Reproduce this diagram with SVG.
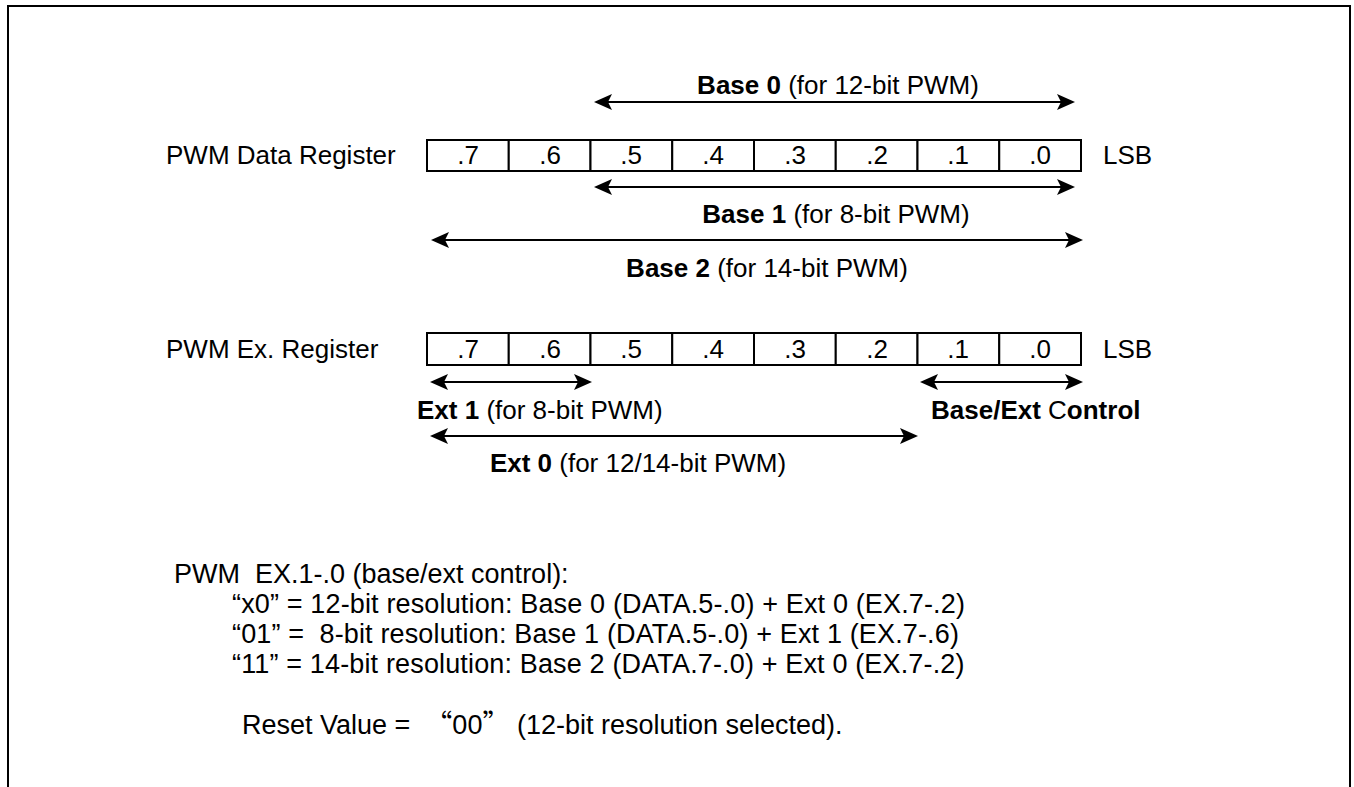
<svg xmlns="http://www.w3.org/2000/svg" width="1354" height="787" viewBox="0 0 1354 787">
<style>
text{font-family:"Liberation Sans",Arial,sans-serif;font-size:26px;fill:#000;white-space:pre}
.b{font-weight:bold}
.c{text-anchor:middle}
.n{font-size:27px}
.s{letter-spacing:0.15px}
.q{font-family:"Noto Sans CJK SC","Liberation Sans",sans-serif}
.cell{fill:#fff;stroke:#000;stroke-width:2}
.arr{stroke:#000;stroke-width:2;fill:none;marker-start:url(#ah);marker-end:url(#ah)}
</style>
<defs>
<marker id="ah" viewBox="0 0 18 16" refX="8" refY="8" markerWidth="18" markerHeight="16" markerUnits="userSpaceOnUse" orient="auto-start-reverse">
<path d="M0,0 L18,8 L0,16 L4,8 Z" fill="#000"/>
</marker>
</defs>
<rect width="1354" height="787" fill="#fff"/>
<path d="M8,800 L8,6 L1350,6 L1350,800" fill="none" stroke="#000" stroke-width="2"/>

<g id="data-register">
<text x="166" y="164">PWM Data Register</text>
<rect class="cell" x="427" y="140" width="81.75" height="31"/>
<rect class="cell" x="508.75" y="140" width="81.75" height="31"/>
<rect class="cell" x="590.5" y="140" width="81.75" height="31"/>
<rect class="cell" x="672.25" y="140" width="81.75" height="31"/>
<rect class="cell" x="754" y="140" width="81.75" height="31"/>
<rect class="cell" x="835.75" y="140" width="81.75" height="31"/>
<rect class="cell" x="917.5" y="140" width="81.75" height="31"/>
<rect class="cell" x="999.25" y="140" width="81.75" height="31"/>
<text class="c" x="468" y="164">.7</text>
<text class="c" x="550" y="164">.6</text>
<text class="c" x="631" y="164">.5</text>
<text class="c" x="713" y="164">.4</text>
<text class="c" x="795" y="164">.3</text>
<text class="c" x="877" y="164">.2</text>
<text class="c" x="958" y="164">.1</text>
<text class="c" x="1040" y="164">.0</text>
<text x="1103" y="164">LSB</text>
</g>

<g id="ex-register">
<text x="166" y="358">PWM Ex. Register</text>
<rect class="cell" x="427" y="333" width="81.75" height="32"/>
<rect class="cell" x="508.75" y="333" width="81.75" height="32"/>
<rect class="cell" x="590.5" y="333" width="81.75" height="32"/>
<rect class="cell" x="672.25" y="333" width="81.75" height="32"/>
<rect class="cell" x="754" y="333" width="81.75" height="32"/>
<rect class="cell" x="835.75" y="333" width="81.75" height="32"/>
<rect class="cell" x="917.5" y="333" width="81.75" height="32"/>
<rect class="cell" x="999.25" y="333" width="81.75" height="32"/>
<text class="c" x="468" y="358">.7</text>
<text class="c" x="550" y="358">.6</text>
<text class="c" x="631" y="358">.5</text>
<text class="c" x="713" y="358">.4</text>
<text class="c" x="795" y="358">.3</text>
<text class="c" x="877" y="358">.2</text>
<text class="c" x="958" y="358">.1</text>
<text class="c" x="1040" y="358">.0</text>
<text x="1103" y="358">LSB</text>
</g>

<g id="connectors">
<line class="arr" x1="604" y1="102" x2="1065" y2="102"/>
<line class="arr" x1="604" y1="187" x2="1065" y2="187"/>
<line class="arr" x1="441" y1="240" x2="1073" y2="240"/>
<line class="arr" x1="440" y1="382" x2="582" y2="382"/>
<line class="arr" x1="930" y1="382" x2="1073" y2="382"/>
<line class="arr" x1="440" y1="436" x2="908" y2="436"/>
</g>

<g id="labels">
<text class="c" x="838" y="94"><tspan class="b">Base 0</tspan> (for 12-bit PWM)</text>
<text class="c" x="836" y="223"><tspan class="b">Base 1</tspan> (for 8-bit PWM)</text>
<text class="c" x="767" y="277"><tspan class="b">Base 2</tspan> (for 14-bit PWM)</text>
<text x="417" y="419"><tspan class="b">Ext 1</tspan> (for 8-bit PWM)</text>
<text x="931" y="419"><tspan class="b">Base/Ext </tspan>C<tspan class="b">ontrol</tspan></text>
<text class="c" x="638" y="472"><tspan class="b">Ext 0</tspan> (for 12/14-bit PWM)</text>
</g>

<g id="notes">
<text class="n" x="174" y="583">PWM  EX.1-.0 (base/ext control):</text>
<text class="n s" x="232" y="613">“x0” = 12-bit resolution: Base 0 (DATA.5-.0) + Ext 0 (EX.7-.2)</text>
<text class="n s" x="232" y="643">“01” =  8-bit resolution: Base 1 (DATA.5-.0) + Ext 1 (EX.7-.6)</text>
<text class="n s" x="232" y="673">“11” = 14-bit resolution: Base 2 (DATA.7-.0) + Ext 0 (EX.7-.2)</text>
<text class="n" x="242" y="734">Reset Value =  <tspan class="q">“</tspan>00<tspan class="q">”</tspan> (12-bit resolution selected).</text>
</g>
</svg>
